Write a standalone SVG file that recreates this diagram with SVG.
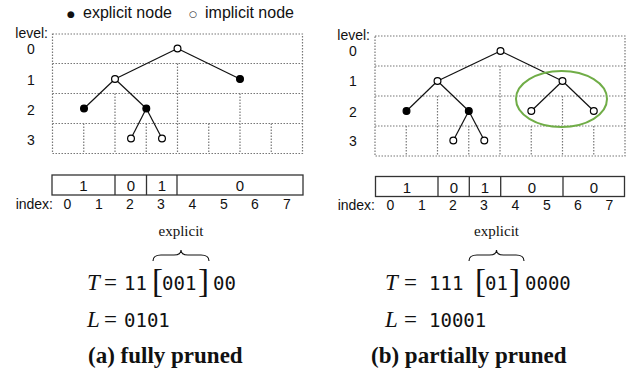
<svg xmlns="http://www.w3.org/2000/svg" width="636" height="375" viewBox="0 0 636 375">
<style>
.grid{fill:none;stroke:#777;stroke-width:1.2;stroke-dasharray:1.5 1.5}
.edge{stroke:#111;stroke-width:1.2;fill:none}
.exp{fill:#000;stroke:#000;stroke-width:1.2}
.imp{fill:#fff;stroke:#000;stroke-width:1.2}
.box{fill:#fff;stroke:#333;stroke-width:1.3}
.div{stroke:#333;stroke-width:1.3}
.lbl{font-family:"Liberation Sans",Arial,sans-serif;font-size:14px;fill:#111}
.mid{text-anchor:middle}
.end{text-anchor:end}
.leg{font-family:"Liberation Sans",Arial,sans-serif;font-size:16px;fill:#111}
.bul{font-family:"DejaVu Sans",sans-serif;font-size:9px;fill:#111;text-anchor:middle}
.cell{font-family:"Liberation Sans",Arial,sans-serif;font-size:15px;fill:#111;text-anchor:middle}
.ser{font-family:"Liberation Serif","Times New Roman",serif;font-size:15px;fill:#111}
.math{font-family:"Liberation Serif","Times New Roman",serif;font-size:23px;fill:#111}
.it{font-style:italic}
.mono{font-family:"DejaVu Sans Mono","Liberation Mono",monospace;font-size:19px;fill:#111}
.brk{font-family:"Liberation Serif","Times New Roman",serif;font-size:33px;fill:#111}
.brace{fill:none;stroke:#111;stroke-width:1.1}
.cap{font-family:"Liberation Serif","Times New Roman",serif;font-size:23px;font-weight:bold;fill:#111}
.ell{fill:none;stroke:#70AD47;stroke-width:2}
</style>

<g id="legend">
  <text class="bul" x="71" y="16.5">●</text>
  <text class="leg" x="83" y="18">explicit node</text>
  <text class="bul" x="193" y="16.5">○</text>
  <text class="leg" x="205" y="18">implicit node</text>
</g>

<!-- LEFT PANEL (a) -->
<g id="grid-a">
  <rect class="grid" x="52.5" y="34" width="250" height="119.5"/>
  <line class="grid" x1="52.5" y1="63.5" x2="302.5" y2="63.5"/>
  <line class="grid" x1="52.5" y1="93.5" x2="302.5" y2="93.5"/>
  <line class="grid" x1="52.5" y1="123.5" x2="302.5" y2="123.5"/>
  <line class="grid" x1="177.5" y1="63.5" x2="177.5" y2="153.5"/>
  <line class="grid" x1="115" y1="93.5" x2="115" y2="153.5"/>
  <line class="grid" x1="240" y1="93.5" x2="240" y2="153.5"/>
  <line class="grid" x1="83.75" y1="123.5" x2="83.75" y2="153.5"/>
  <line class="grid" x1="146.25" y1="123.5" x2="146.25" y2="153.5"/>
  <line class="grid" x1="208.75" y1="123.5" x2="208.75" y2="153.5"/>
  <line class="grid" x1="271.25" y1="123.5" x2="271.25" y2="153.5"/>
</g>
<g id="levels-a">
  <text class="lbl end" x="48" y="38">level:</text>
  <text class="lbl mid" x="31" y="54">0</text>
  <text class="lbl mid" x="31" y="85">1</text>
  <text class="lbl mid" x="31" y="115">2</text>
  <text class="lbl mid" x="31" y="145">3</text>
</g>
<g id="connectors-a">
  <line class="edge" x1="177.5" y1="48.5" x2="115" y2="79"/>
  <line class="edge" x1="177.5" y1="48.5" x2="240" y2="79"/>
  <line class="edge" x1="115" y1="79" x2="84" y2="108.5"/>
  <line class="edge" x1="115" y1="79" x2="146.3" y2="108.5"/>
  <line class="edge" x1="146.3" y1="108.5" x2="131" y2="138.5"/>
  <line class="edge" x1="146.3" y1="108.5" x2="162" y2="138.5"/>
</g>
<g id="nodes-a">
  <circle id="a-n0" class="imp" cx="177.5" cy="48.5" r="3.4"/>
  <circle id="a-n1" class="imp" cx="115" cy="79" r="3.4"/>
  <circle id="a-n2" class="exp" cx="240" cy="79" r="3.4"/>
  <circle id="a-n3" class="exp" cx="84" cy="108.5" r="3.4"/>
  <circle id="a-n4" class="exp" cx="146.3" cy="108.5" r="3.4"/>
  <circle id="a-n5" class="imp" cx="131" cy="138.5" r="3.4"/>
  <circle id="a-n6" class="imp" cx="162" cy="138.5" r="3.4"/>
</g>
<g id="array-a">
  <rect class="box" x="52" y="175" width="251" height="20"/>
  <line class="div" x1="115" y1="175" x2="115" y2="195"/>
  <line class="div" x1="146.5" y1="175" x2="146.5" y2="195"/>
  <line class="div" x1="177" y1="175" x2="177" y2="195"/>
  <text class="cell" x="83.5" y="191">1</text>
  <text class="cell" x="131" y="191">0</text>
  <text class="cell" x="162" y="191">1</text>
  <text class="cell" x="240" y="191">0</text>
</g>
<g id="index-a">
  <text class="lbl end" x="53" y="209">index:</text>
  <text class="lbl mid" x="67.5" y="209">0</text>
  <text class="lbl mid" x="99" y="209">1</text>
  <text class="lbl mid" x="130" y="209">2</text>
  <text class="lbl mid" x="161" y="209">3</text>
  <text class="lbl mid" x="192.5" y="209">4</text>
  <text class="lbl mid" x="224" y="209">5</text>
  <text class="lbl mid" x="255" y="209">6</text>
  <text class="lbl mid" x="287" y="209">7</text>
</g>
<g id="formula-a">
  <text class="ser mid" x="181" y="236">explicit</text>
  <path class="brace" d="M153,261 Q153,255 161,255 L174,255 Q181,255 181,250 Q181,255 188,255 L201,255 Q209,255 209,261"/>
  <text class="math it" x="87" y="290">T</text>
  <text class="math" x="104" y="290">=</text>
  <text class="mono" x="124" y="290">11</text>
  <text class="brk" x="152" y="292">[</text>
  <text class="mono" x="162" y="290">001</text>
  <text class="brk" x="198" y="292">]</text>
  <text class="mono" x="213" y="290">00</text>
  <text class="math it" x="87" y="327">L</text>
  <text class="math" x="104" y="327">=</text>
  <text class="mono" x="124" y="327">0101</text>
</g>
<text id="caption-a" class="cap" x="88" y="363">(a) fully pruned</text>

<!-- RIGHT PANEL (b) -->
<g id="grid-b">
  <rect class="grid" x="375" y="36" width="250" height="120"/>
  <line class="grid" x1="375" y1="66" x2="625" y2="66"/>
  <line class="grid" x1="375" y1="96" x2="625" y2="96"/>
  <line class="grid" x1="375" y1="126" x2="625" y2="126"/>
  <line class="grid" x1="500" y1="66" x2="500" y2="156"/>
  <line class="grid" x1="437.5" y1="96" x2="437.5" y2="156"/>
  <line class="grid" x1="562.5" y1="96" x2="562.5" y2="156"/>
  <line class="grid" x1="406.25" y1="126" x2="406.25" y2="156"/>
  <line class="grid" x1="468.75" y1="126" x2="468.75" y2="156"/>
  <line class="grid" x1="531.25" y1="126" x2="531.25" y2="156"/>
  <line class="grid" x1="593.75" y1="126" x2="593.75" y2="156"/>
</g>
<g id="levels-b">
  <text class="lbl end" x="370" y="40">level:</text>
  <text class="lbl mid" x="353" y="55.5">0</text>
  <text class="lbl mid" x="353" y="86">1</text>
  <text class="lbl mid" x="353" y="116.5">2</text>
  <text class="lbl mid" x="353" y="146">3</text>
</g>
<g id="connectors-b">
  <line class="edge" x1="500.5" y1="51" x2="437.5" y2="81"/>
  <line class="edge" x1="500.5" y1="51" x2="562.5" y2="81"/>
  <line class="edge" x1="437.5" y1="81" x2="406.5" y2="111"/>
  <line class="edge" x1="437.5" y1="81" x2="468.8" y2="111"/>
  <line class="edge" x1="468.8" y1="111" x2="453.3" y2="140.5"/>
  <line class="edge" x1="468.8" y1="111" x2="484.3" y2="140.5"/>
  <line class="edge" x1="562.5" y1="81" x2="531.3" y2="111"/>
  <line class="edge" x1="562.5" y1="81" x2="593.8" y2="111"/>
</g>
<g id="nodes-b">
  <circle id="b-n0" class="imp" cx="500.5" cy="51" r="3.4"/>
  <circle id="b-n1" class="imp" cx="437.5" cy="81" r="3.4"/>
  <circle id="b-n2" class="imp" cx="562.5" cy="81" r="3.4"/>
  <circle id="b-n3" class="exp" cx="406.5" cy="111" r="3.4"/>
  <circle id="b-n4" class="exp" cx="468.8" cy="111" r="3.4"/>
  <circle id="b-n5" class="imp" cx="531.3" cy="111" r="3.4"/>
  <circle id="b-n6" class="imp" cx="593.8" cy="111" r="3.4"/>
  <circle id="b-n7" class="imp" cx="453.3" cy="140.5" r="3.4"/>
  <circle id="b-n8" class="imp" cx="484.3" cy="140.5" r="3.4"/>
</g>
<g id="highlight-b">
  <ellipse class="ell" cx="561.5" cy="99" rx="45.5" ry="28"/>
</g>
<g id="array-b">
  <rect class="box" x="375.5" y="176.5" width="249" height="20"/>
  <line class="div" x1="438" y1="176.5" x2="438" y2="196.5"/>
  <line class="div" x1="469.3" y1="176.5" x2="469.3" y2="196.5"/>
  <line class="div" x1="500.7" y1="176.5" x2="500.7" y2="196.5"/>
  <line class="div" x1="563" y1="176.5" x2="563" y2="196.5"/>
  <text class="cell" x="407" y="192.5">1</text>
  <text class="cell" x="454" y="192.5">0</text>
  <text class="cell" x="485" y="192.5">1</text>
  <text class="cell" x="532" y="192.5">0</text>
  <text class="cell" x="594" y="192.5">0</text>
</g>
<g id="index-b">
  <text class="lbl end" x="375" y="209.5">index:</text>
  <text class="lbl mid" x="390.5" y="209.5">0</text>
  <text class="lbl mid" x="422" y="209.5">1</text>
  <text class="lbl mid" x="453" y="209.5">2</text>
  <text class="lbl mid" x="484" y="209.5">3</text>
  <text class="lbl mid" x="515.5" y="209.5">4</text>
  <text class="lbl mid" x="547" y="209.5">5</text>
  <text class="lbl mid" x="578" y="209.5">6</text>
  <text class="lbl mid" x="609.5" y="209.5">7</text>
</g>
<g id="formula-b">
  <text class="ser mid" x="496.5" y="236">explicit</text>
  <path class="brace" d="M469,261 Q469,255 477,255 L489.5,255 Q496.5,255 496.5,250 Q496.5,255 503.5,255 L516,255 Q524,255 524,261"/>
  <text class="math it" x="385" y="290">T</text>
  <text class="math" x="404" y="290">=</text>
  <text class="mono" x="429" y="290">111</text>
  <text class="brk" x="475" y="292">[</text>
  <text class="mono" x="485" y="290">01</text>
  <text class="brk" x="509" y="292">]</text>
  <text class="mono" x="525" y="290">0000</text>
  <text class="math it" x="385" y="327">L</text>
  <text class="math" x="404" y="327">=</text>
  <text class="mono" x="429" y="327">10001</text>
</g>
<text id="caption-b" class="cap" x="371" y="363">(b) partially pruned</text>
</svg>
